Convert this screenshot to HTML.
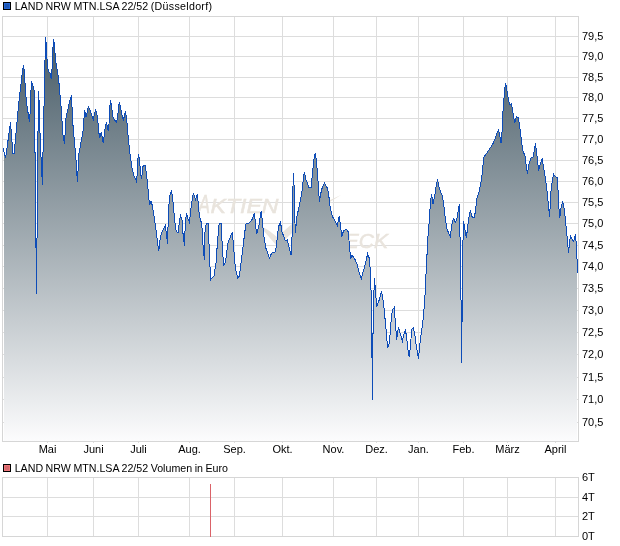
<!DOCTYPE html>
<html><head><meta charset="utf-8"><title>Chart</title>
<style>
html,body{margin:0;padding:0;background:#fff;}
body{width:620px;height:546px;position:relative;overflow:hidden;font-family:"Liberation Sans",sans-serif;}
.t{position:absolute;font-size:11px;line-height:13px;color:#000;white-space:nowrap;}
.c{width:61px;text-align:center;}
.lg{font-size:10.67px;word-spacing:-0.45px;}
.lg span{letter-spacing:0.3px;}
</style></head><body>
<svg width="620" height="546" viewBox="0 0 620 546" style="position:absolute;left:0;top:0"><defs><linearGradient id="g" gradientUnits="userSpaceOnUse" x1="0" y1="16" x2="0" y2="441"><stop offset="0" stop-color="#3e535f"/><stop offset="1" stop-color="#fcfcfd"/></linearGradient></defs><path d="M47.5 16V443M93.5 16V443M138.5 16V443M189.5 16V443M234.5 16V443M282.5 16V443M333.5 16V443M376.5 16V443M418.5 16V443M463.5 16V443M507.5 16V443M555.5 16V443M2 36.5H578M2 56.5H578M2 77.5H578M2 97.5H578M2 118.5H578M2 139.5H578M2 160.5H578M2 181.5H578M2 202.5H578M2 223.5H578M2 245.5H578M2 266.5H578M2 288.5H578M2 310.5H578M2 332.5H578M2 354.5H578M2 377.5H578M2 399.5H578M2 422.5H578" stroke="#dddddd" stroke-width="1" fill="none" shape-rendering="crispEdges"/><g fill="#e9e4dd" stroke="#e9e4dd" stroke-width="0.5" font-family="'Liberation Sans', sans-serif" font-style="italic"><text transform="translate(198.3,212.5) scale(0.68,1)" font-size="26">A</text><text x="210.5" y="212.5" font-size="20" textLength="68" lengthAdjust="spacingAndGlyphs">KTIEN</text><text transform="translate(314,247.5) scale(0.75,1)" font-size="26">C</text><text x="329.5" y="247.5" font-size="20" textLength="58.5" lengthAdjust="spacingAndGlyphs">HECK</text><path stroke="none" d="M256 223 L263 227 L269.5 231 L277 237 L291 224.7 Q315 206 341 195 Q312 212 291.5 233.5 L277.5 246.5 L276 245 L269.5 237.6 L263 230Z"/></g><path d="M4 441 L4 148.4 L4.0 148.4 L5.6 158.4 L10.5 122.0 L12.9 153.5 L14.2 153.5 L17.7 114.0 L18.7 103.7 L19.6 96.0 L20.6 87.0 L21.7 78.0 L22.5 70.4 L23.6 65.3 L24.6 74.2 L25.3 89.6 L26.3 99.9 L27.4 108.8 L28.5 115.3 L29.4 122.3 L30.1 112.7 L30.9 92.2 L31.4 81.3 L32.3 83.8 L33.3 87.0 L34.3 91.0 L34.9 141.5 L36.5 293.5 L38.4 91.3 L39.4 106.0 L40.4 150.0 L41.5 163.0 L42.3 185.0 L45.5 36.8 L46.4 46.5 L47.2 63.0 L48.3 71.5 L50.0 72.6 L51.4 79.4 L52.0 69.2 L52.9 49.3 L53.5 39.1 L54.5 45.3 L55.3 57.3 L56.5 66.4 L57.6 72.6 L58.5 78.3 L59.3 86.3 L61.0 106.0 L62.9 134.0 L64.5 144.0 L66.0 118.0 L69.0 104.0 L71.5 95.3 L72.6 121.0 L74.5 142.0 L76.0 160.0 L77.4 181.8 L79.0 153.5 L80.6 144.7 L83.0 131.0 L84.7 110.0 L86.0 117.0 L88.4 106.6 L90.0 110.0 L93.2 119.8 L95.6 109.4 L97.3 115.8 L98.9 132.7 L99.7 138.4 L101.3 131.6 L103.2 143.2 L105.3 127.0 L106.5 122.3 L108.2 131.0 L109.0 123.9 L109.7 107.7 L110.5 100.2 L111.8 107.7 L112.6 115.8 L114.2 119.8 L116.6 122.3 L117.7 117.4 L118.5 107.0 L119.5 102.0 L120.6 107.7 L122.3 116.6 L123.5 119.8 L125.5 111.0 L126.8 120.6 L127.9 133.5 L129.5 149.7 L131.6 165.8 L133.7 175.5 L136.4 181.1 L137.2 174.0 L137.6 161.0 L138.5 154.2 L139.7 161.0 L140.3 170.6 L141.5 179.2 L143.1 165.8 L145.0 165.0 L146.6 174.7 L147.7 186.0 L149.0 199.7 L149.8 205.0 L151.0 201.3 L152.3 205.3 L153.9 215.0 L155.8 227.9 L157.4 240.8 L158.7 251.3 L160.3 237.6 L162.3 231.1 L165.2 225.5 L166.5 234.4 L167.6 244.0 L168.4 211.8 L169.7 195.6 L171.6 190.5 L172.9 200.5 L174.0 213.4 L175.6 227.9 L176.5 231.9 L178.1 232.7 L179.4 221.5 L180.5 215.8 L182.1 220.6 L183.2 236.0 L184.5 245.6 L185.3 223.0 L186.5 213.4 L187.7 218.2 L189.4 222.3 L190.6 211.8 L191.8 202.1 L193.4 192.7 L195.5 199.7 L197.4 193.7 L198.5 206.9 L199.5 216.1 L201.8 224.2 L203.1 246.8 L204.4 259.7 L205.0 232.3 L206.3 223.4 L208.2 223.4 L209.2 248.4 L210.6 279.8 L214.0 275.8 L216.0 262.9 L217.6 240.3 L219.2 223.4 L221.1 223.4 L222.4 248.4 L223.7 266.1 L225.6 261.3 L228.1 241.9 L232.4 232.3 L233.7 248.4 L235.3 267.7 L237.7 278.2 L239.4 275.8 L241.0 262.9 L243.4 243.5 L245.8 224.2 L249.8 222.6 L252.7 218.5 L254.4 212.9 L255.5 224.2 L256.6 233.9 L258.7 226.6 L261.1 211.3 L262.4 221.0 L263.5 233.9 L266.0 248.4 L269.5 258.1 L271.6 253.2 L275.6 251.9 L277.3 237.1 L278.5 226.6 L280.5 222.3 L282.1 232.3 L285.3 240.3 L287.4 240.0 L289.0 247.3 L291.1 255.3 L292.3 231.0 L292.7 193.4 L293.5 173.2 L294.2 188.5 L294.7 217.6 L295.5 232.7 L296.6 218.0 L299.5 204.7 L301.9 191.8 L303.5 177.3 L304.4 171.6 L306.0 179.7 L308.9 187.3 L311.1 187.3 L312.7 170.8 L314.0 159.5 L315.3 153.1 L316.5 161.1 L318.1 182.1 L319.4 201.5 L320.8 193.4 L322.4 186.9 L324.5 183.4 L327.7 188.5 L328.9 196.6 L330.5 209.5 L332.6 216.8 L335.3 221.6 L337.4 225.6 L339.2 216.3 L340.6 226.0 L341.8 236.8 L343.4 231.1 L346.3 229.2 L348.2 231.9 L349.5 245.6 L350.6 258.9 L351.9 255.3 L354.4 258.2 L356.8 263.4 L359.2 272.3 L361.3 279.2 L363.2 271.5 L365.6 263.4 L367.6 253.7 L369.7 259.4 L370.5 279.5 L371.3 296.0 L372.5 400.3 L373.2 310.5 L374.5 278.3 L375.4 289.5 L376.6 306.5 L379.0 300.5 L381.5 291.3 L383.4 302.0 L385.5 323.4 L387.7 348.4 L389.4 342.7 L391.5 315.3 L393.1 308.9 L394.2 307.6 L395.5 323.4 L396.6 340.3 L398.4 327.4 L400.3 333.9 L402.4 341.1 L403.9 334.7 L405.5 329.5 L406.8 339.5 L408.1 350.8 L409.2 357.3 L410.5 346.0 L411.6 329.8 L413.2 327.9 L414.8 334.7 L416.8 349.2 L418.4 358.5 L419.7 346.0 L421.3 333.1 L423.2 318.5 L424.5 304.0 L425.3 289.5 L426.2 270.0 L427.9 237.7 L429.5 218.4 L430.3 203.9 L431.5 194.2 L433.1 204.2 L435.2 192.6 L436.3 184.5 L437.6 179.4 L439.2 187.7 L440.8 192.6 L442.4 195.8 L443.7 204.7 L445.3 218.4 L446.9 228.9 L448.9 233.7 L450.2 236.5 L451.3 229.7 L452.4 221.6 L453.7 218.4 L455.3 222.4 L457.3 217.6 L458.5 208.7 L459.5 204.2 L459.8 234.5 L460.5 244.2 L461.6 362.5 L462.7 255.5 L463.4 221.3 L464.7 228.0 L466.3 237.7 L467.4 229.7 L468.5 220.0 L470.3 210.3 L472.3 217.6 L474.4 217.6 L475.5 210.3 L477.1 197.4 L478.7 193.4 L480.3 186.1 L481.9 176.5 L483.2 163.0 L483.7 157.3 L486.1 154.0 L489.4 149.2 L492.6 144.4 L494.5 140.3 L496.6 133.9 L498.5 130.2 L499.8 135.5 L501.1 143.1 L501.9 134.7 L502.7 115.3 L503.9 99.2 L504.7 89.5 L505.6 83.1 L507.1 91.1 L508.4 99.2 L509.5 104.8 L511.5 103.7 L512.7 110.5 L513.9 118.5 L514.7 123.4 L516.5 116.6 L518.4 117.7 L519.7 126.6 L521.3 139.5 L522.6 149.7 L525.0 156.1 L526.3 165.8 L527.4 174.2 L529.0 164.2 L531.0 158.1 L533.1 156.9 L534.4 149.7 L535.5 143.2 L536.8 154.5 L537.9 164.2 L538.7 170.6 L540.3 164.2 L542.3 158.5 L543.5 167.4 L545.2 177.1 L546.8 188.4 L548.4 204.5 L549.7 217.4 L550.5 196.5 L551.6 185.2 L553.5 174.2 L555.6 176.8 L557.3 177.4 L558.1 191.6 L558.9 207.7 L559.7 218.2 L561.0 207.7 L562.6 201.3 L564.2 208.5 L565.6 222.0 L567.1 236.6 L568.6 253.4 L569.3 243.9 L570.5 236.3 L571.9 238.8 L573.7 241.7 L575.4 234.4 L576.3 243.9 L577.3 264.4 L577.8 272.5 L577 272.5 L577 441Z" fill="url(#g)" stroke="none" shape-rendering="crispEdges"/><path d="M3.2 148.4 L5.6 158.4 L10.5 122.0 L12.9 153.5 L14.2 153.5 L17.7 114.0 L18.7 103.7 L19.6 96.0 L20.6 87.0 L21.7 78.0 L22.5 70.4 L23.6 65.3 L24.6 74.2 L25.3 89.6 L26.3 99.9 L27.4 108.8 L28.5 115.3 L29.4 122.3 L30.1 112.7 L30.9 92.2 L31.4 81.3 L32.3 83.8 L33.3 87.0 L34.3 91.0 L34.9 141.5 L36.5 293.5 L38.4 91.3 L39.4 106.0 L40.4 150.0 L41.5 163.0 L42.3 185.0 L45.5 36.8 L46.4 46.5 L47.2 63.0 L48.3 71.5 L50.0 72.6 L51.4 79.4 L52.0 69.2 L52.9 49.3 L53.5 39.1 L54.5 45.3 L55.3 57.3 L56.5 66.4 L57.6 72.6 L58.5 78.3 L59.3 86.3 L61.0 106.0 L62.9 134.0 L64.5 144.0 L66.0 118.0 L69.0 104.0 L71.5 95.3 L72.6 121.0 L74.5 142.0 L76.0 160.0 L77.4 181.8 L79.0 153.5 L80.6 144.7 L83.0 131.0 L84.7 110.0 L86.0 117.0 L88.4 106.6 L90.0 110.0 L93.2 119.8 L95.6 109.4 L97.3 115.8 L98.9 132.7 L99.7 138.4 L101.3 131.6 L103.2 143.2 L105.3 127.0 L106.5 122.3 L108.2 131.0 L109.0 123.9 L109.7 107.7 L110.5 100.2 L111.8 107.7 L112.6 115.8 L114.2 119.8 L116.6 122.3 L117.7 117.4 L118.5 107.0 L119.5 102.0 L120.6 107.7 L122.3 116.6 L123.5 119.8 L125.5 111.0 L126.8 120.6 L127.9 133.5 L129.5 149.7 L131.6 165.8 L133.7 175.5 L136.4 181.1 L137.2 174.0 L137.6 161.0 L138.5 154.2 L139.7 161.0 L140.3 170.6 L141.5 179.2 L143.1 165.8 L145.0 165.0 L146.6 174.7 L147.7 186.0 L149.0 199.7 L149.8 205.0 L151.0 201.3 L152.3 205.3 L153.9 215.0 L155.8 227.9 L157.4 240.8 L158.7 251.3 L160.3 237.6 L162.3 231.1 L165.2 225.5 L166.5 234.4 L167.6 244.0 L168.4 211.8 L169.7 195.6 L171.6 190.5 L172.9 200.5 L174.0 213.4 L175.6 227.9 L176.5 231.9 L178.1 232.7 L179.4 221.5 L180.5 215.8 L182.1 220.6 L183.2 236.0 L184.5 245.6 L185.3 223.0 L186.5 213.4 L187.7 218.2 L189.4 222.3 L190.6 211.8 L191.8 202.1 L193.4 192.7 L195.5 199.7 L197.4 193.7 L198.5 206.9 L199.5 216.1 L201.8 224.2 L203.1 246.8 L204.4 259.7 L205.0 232.3 L206.3 223.4 L208.2 223.4 L209.2 248.4 L210.6 279.8 L214.0 275.8 L216.0 262.9 L217.6 240.3 L219.2 223.4 L221.1 223.4 L222.4 248.4 L223.7 266.1 L225.6 261.3 L228.1 241.9 L232.4 232.3 L233.7 248.4 L235.3 267.7 L237.7 278.2 L239.4 275.8 L241.0 262.9 L243.4 243.5 L245.8 224.2 L249.8 222.6 L252.7 218.5 L254.4 212.9 L255.5 224.2 L256.6 233.9 L258.7 226.6 L261.1 211.3 L262.4 221.0 L263.5 233.9 L266.0 248.4 L269.5 258.1 L271.6 253.2 L275.6 251.9 L277.3 237.1 L278.5 226.6 L280.5 222.3 L282.1 232.3 L285.3 240.3 L287.4 240.0 L289.0 247.3 L291.1 255.3 L292.3 231.0 L292.7 193.4 L293.5 173.2 L294.2 188.5 L294.7 217.6 L295.5 232.7 L296.6 218.0 L299.5 204.7 L301.9 191.8 L303.5 177.3 L304.4 171.6 L306.0 179.7 L308.9 187.3 L311.1 187.3 L312.7 170.8 L314.0 159.5 L315.3 153.1 L316.5 161.1 L318.1 182.1 L319.4 201.5 L320.8 193.4 L322.4 186.9 L324.5 183.4 L327.7 188.5 L328.9 196.6 L330.5 209.5 L332.6 216.8 L335.3 221.6 L337.4 225.6 L339.2 216.3 L340.6 226.0 L341.8 236.8 L343.4 231.1 L346.3 229.2 L348.2 231.9 L349.5 245.6 L350.6 258.9 L351.9 255.3 L354.4 258.2 L356.8 263.4 L359.2 272.3 L361.3 279.2 L363.2 271.5 L365.6 263.4 L367.6 253.7 L369.7 259.4 L370.5 279.5 L371.3 296.0 L372.5 400.3 L373.2 310.5 L374.5 278.3 L375.4 289.5 L376.6 306.5 L379.0 300.5 L381.5 291.3 L383.4 302.0 L385.5 323.4 L387.7 348.4 L389.4 342.7 L391.5 315.3 L393.1 308.9 L394.2 307.6 L395.5 323.4 L396.6 340.3 L398.4 327.4 L400.3 333.9 L402.4 341.1 L403.9 334.7 L405.5 329.5 L406.8 339.5 L408.1 350.8 L409.2 357.3 L410.5 346.0 L411.6 329.8 L413.2 327.9 L414.8 334.7 L416.8 349.2 L418.4 358.5 L419.7 346.0 L421.3 333.1 L423.2 318.5 L424.5 304.0 L425.3 289.5 L426.2 270.0 L427.9 237.7 L429.5 218.4 L430.3 203.9 L431.5 194.2 L433.1 204.2 L435.2 192.6 L436.3 184.5 L437.6 179.4 L439.2 187.7 L440.8 192.6 L442.4 195.8 L443.7 204.7 L445.3 218.4 L446.9 228.9 L448.9 233.7 L450.2 236.5 L451.3 229.7 L452.4 221.6 L453.7 218.4 L455.3 222.4 L457.3 217.6 L458.5 208.7 L459.5 204.2 L459.8 234.5 L460.5 244.2 L461.6 362.5 L462.7 255.5 L463.4 221.3 L464.7 228.0 L466.3 237.7 L467.4 229.7 L468.5 220.0 L470.3 210.3 L472.3 217.6 L474.4 217.6 L475.5 210.3 L477.1 197.4 L478.7 193.4 L480.3 186.1 L481.9 176.5 L483.2 163.0 L483.7 157.3 L486.1 154.0 L489.4 149.2 L492.6 144.4 L494.5 140.3 L496.6 133.9 L498.5 130.2 L499.8 135.5 L501.1 143.1 L501.9 134.7 L502.7 115.3 L503.9 99.2 L504.7 89.5 L505.6 83.1 L507.1 91.1 L508.4 99.2 L509.5 104.8 L511.5 103.7 L512.7 110.5 L513.9 118.5 L514.7 123.4 L516.5 116.6 L518.4 117.7 L519.7 126.6 L521.3 139.5 L522.6 149.7 L525.0 156.1 L526.3 165.8 L527.4 174.2 L529.0 164.2 L531.0 158.1 L533.1 156.9 L534.4 149.7 L535.5 143.2 L536.8 154.5 L537.9 164.2 L538.7 170.6 L540.3 164.2 L542.3 158.5 L543.5 167.4 L545.2 177.1 L546.8 188.4 L548.4 204.5 L549.7 217.4 L550.5 196.5 L551.6 185.2 L553.5 174.2 L555.6 176.8 L557.3 177.4 L558.1 191.6 L558.9 207.7 L559.7 218.2 L561.0 207.7 L562.6 201.3 L564.2 208.5 L565.6 222.0 L567.1 236.6 L568.6 253.4 L569.3 243.9 L570.5 236.3 L571.9 238.8 L573.7 241.7 L575.4 234.4 L576.3 243.9 L577.3 264.4 L577.8 272.5" fill="none" stroke="#0d4cb8" stroke-width="1" stroke-linejoin="miter" shape-rendering="crispEdges"/><rect x="2.5" y="16.5" width="576" height="425" fill="none" stroke="#d6d6d6" stroke-width="1" shape-rendering="crispEdges"/><path d="M47.5 477V536M93.5 477V536M138.5 477V536M189.5 477V536M234.5 477V536M282.5 477V536M333.5 477V536M376.5 477V536M418.5 477V536M463.5 477V536M507.5 477V536M555.5 477V536M2 497.5H578M2 516.5H578" stroke="#dddddd" stroke-width="1" fill="none" shape-rendering="crispEdges"/><rect x="2.5" y="477.5" width="576" height="59" fill="none" stroke="#d6d6d6" stroke-width="1" shape-rendering="crispEdges"/><rect x="210" y="484" width="1" height="53" fill="#da6268" shape-rendering="crispEdges"/><rect x="3.5" y="2.5" width="7" height="7" fill="#2868d4" stroke="#000" stroke-width="1" shape-rendering="crispEdges"/><rect x="5" y="4" width="4" height="4" fill="#1e58b8" shape-rendering="crispEdges"/><rect x="3.5" y="464.5" width="7" height="7" fill="#ee787c" stroke="#000" stroke-width="1" shape-rendering="crispEdges"/><rect x="5" y="466" width="4" height="4" fill="#d6686b" shape-rendering="crispEdges"/></svg>
<div class="t lg" style="left:14.7px;top:0px">LAND NRW MTN.LSA 22/52 <span>(Düsseldorf)</span></div><div class="t lg" style="left:14.7px;top:462px">LAND NRW MTN.LSA 22/52 Volumen in Euro</div><div class="t" style="left:582px;top:30px">79,5</div><div class="t" style="left:582px;top:50px">79,0</div><div class="t" style="left:582px;top:71px">78,5</div><div class="t" style="left:582px;top:91px">78,0</div><div class="t" style="left:582px;top:112px">77,5</div><div class="t" style="left:582px;top:133px">77,0</div><div class="t" style="left:582px;top:154px">76,5</div><div class="t" style="left:582px;top:175px">76,0</div><div class="t" style="left:582px;top:196px">75,5</div><div class="t" style="left:582px;top:217px">75,0</div><div class="t" style="left:582px;top:239px">74,5</div><div class="t" style="left:582px;top:260px">74,0</div><div class="t" style="left:582px;top:282px">73,5</div><div class="t" style="left:582px;top:304px">73,0</div><div class="t" style="left:582px;top:326px">72,5</div><div class="t" style="left:582px;top:348px">72,0</div><div class="t" style="left:582px;top:371px">71,5</div><div class="t" style="left:582px;top:393px">71,0</div><div class="t" style="left:582px;top:416px">70,5</div><div class="t c" style="left:17px;top:443px">Mai</div><div class="t c" style="left:63px;top:443px">Juni</div><div class="t c" style="left:108px;top:443px">Juli</div><div class="t c" style="left:159px;top:443px">Aug.</div><div class="t c" style="left:204px;top:443px">Sep.</div><div class="t c" style="left:252px;top:443px">Okt.</div><div class="t c" style="left:303px;top:443px">Nov.</div><div class="t c" style="left:346px;top:443px">Dez.</div><div class="t c" style="left:388px;top:443px">Jan.</div><div class="t c" style="left:433px;top:443px">Feb.</div><div class="t c" style="left:477px;top:443px">März</div><div class="t c" style="left:525px;top:443px">April</div><div class="t" style="left:582px;top:471px">6T</div><div class="t" style="left:582px;top:491px">4T</div><div class="t" style="left:582px;top:510px">2T</div><div class="t" style="left:582px;top:530px">0T</div>
</body></html>
